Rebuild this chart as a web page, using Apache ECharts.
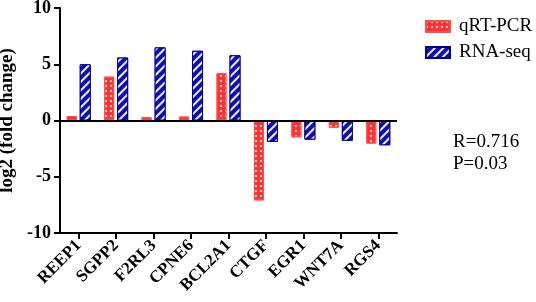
<!DOCTYPE html>
<html>
<head>
<meta charset="utf-8">
<script src="https://cdn.jsdelivr.net/npm/echarts@6/dist/echarts.min.js"></script>
<style>
html,body{margin:0;padding:0;background:#fff;}
#main{width:536px;height:302px;}
</style>
</head>
<body>
<div id="main"></div>
<script>
let genes = ['REEP1','SGPP2','F2RL3','CPNE6','BCL2A1','CTGF','EGR1','WNT7A','RGS4'];
let qrtpcr = [0.4, 3.9, 0.3, 0.35, 4.2, -7.1, -1.5, -0.65, -2.05];
let rnaseq = [5.0, 5.6, 6.5, 6.2, 5.8, -1.9, -1.7, -1.8, -2.2];
let yTicks = [-10, -5, 0, 5, 10];
let stats = ['R=0.716', 'P=0.03'];

let font = '"Liberation Serif", "Times New Roman", serif';

let chart = echarts.init(document.getElementById('main'));

let redDecal = {
  symbol: 'rect',
  symbolSize: 0.9,
  color: 'rgba(255,255,255,0.85)',
  dashArrayX: [[2, 3]],
  dashArrayY: [2, 3],
  rotation: 0
};
let blueDecal = {
  symbol: 'rect',
  symbolSize: 1,
  color: 'rgba(255,255,255,0.95)',
  dashArrayX: [[10, 0]],
  dashArrayY: [1.5, 3.5],
  rotation: -Math.PI / 4
};

chart.setOption({
  animation: false,
  textStyle: {fontFamily: font},
  grid: {left: 60, right: 139, top: 8, bottom: 69, containLabel: false, outerBoundsMode: 'none'},
  legend: {
    left: 420, top: 12,
    orient: 'vertical',
    itemWidth: 24, itemHeight: 11, itemGap: 7,
    textStyle: {fontFamily: font, fontSize: 19, color: '#000', padding: [0, 0, 0, 4]},
    data: [
      {name: 'qRT-PCR', icon: 'rect'},
      {name: 'RNA-seq', icon: 'rect'}
    ]
  },
  xAxis: {
    type: 'category',
    data: genes,
    axisLine: {onZero: false, lineStyle: {color: '#000', width: 2}},
    axisTick: {show: true, alignWithLabel: true, length: 6, lineStyle: {color: '#000', width: 2}},
    axisLabel: {
      rotate: 45, margin: 10, color: '#000',
      fontFamily: font, fontWeight: 'bold', fontSize: 17
    }
  },
  yAxis: {
    type: 'value',
    min: -10, max: 10, interval: 5,
    name: 'log2 (fold change)',
    nameLocation: 'middle', nameGap: 35,
    nameTextStyle: {fontFamily: font, fontWeight: 'bold', fontSize: 19, color: '#000'},
    splitLine: {show: false},
    axisLine: {show: true, lineStyle: {color: '#000', width: 2}},
    axisTick: {show: true, length: 6, lineStyle: {color: '#000', width: 2}},
    axisLabel: {
      color: '#000', fontFamily: font, fontWeight: 'bold', fontSize: 18, margin: 9,
      formatter: function (v) { return yTicks.indexOf(v) >= 0 ? String(v) : ''; }
    }
  },
  series: [
    {
      name: 'qRT-PCR',
      type: 'bar',
      data: qrtpcr,
      barWidth: 10,
      barGap: '30%',
      itemStyle: {color: '#ff3333', borderColor: '#ff4d4d', borderWidth: 1, decal: redDecal},
      markLine: {
        silent: true, symbol: 'none', label: {show: false},
        lineStyle: {color: '#000', width: 2, type: 'solid'},
        data: [{yAxis: 0}]
      }
    },
    {
      name: 'RNA-seq',
      type: 'bar',
      data: rnaseq,
      barWidth: 11,
      itemStyle: {color: '#1010b8', borderColor: '#0000a0', borderWidth: 1, decal: blueDecal}
    }
  ],
  graphic: [
    {
      type: 'text', left: 453, top: 131,
      style: {text: stats.join('\n'), font: '19px ' + font, lineHeight: 22, fill: '#000'}
    }
  ]
});
</script>
</body>
</html>
